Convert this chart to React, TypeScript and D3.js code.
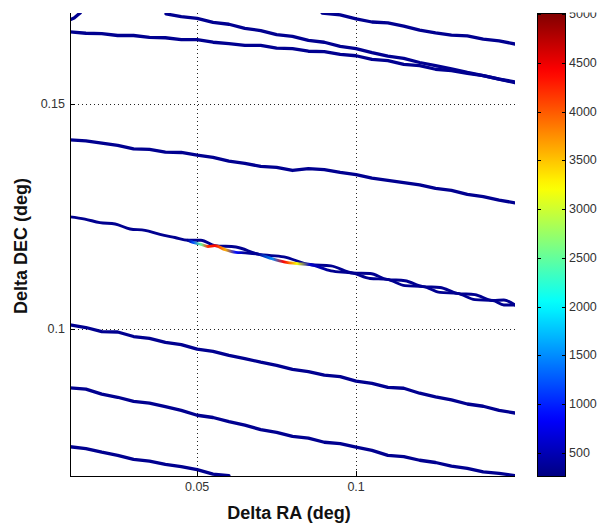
import React from "react";
import * as d3 from "d3";

// Right ascension sample positions (deg) shared by the full-width tracks
const raFull = [
  0.010, 0.015, 0.020, 0.025, 0.030, 0.035, 0.040, 0.045, 0.050, 0.055,
  0.060, 0.065, 0.070, 0.075, 0.080, 0.085, 0.090, 0.095, 0.100, 0.105,
  0.110, 0.115, 0.120, 0.125, 0.130, 0.135, 0.140, 0.145, 0.150,
];

// Track A: short hook in the upper-left corner
const raA = [0.0100, 0.0113, 0.0125, 0.0132];
const decA = [0.1687, 0.1691, 0.1698, 0.1702];

// Track B
const raB = [
  0.0402, 0.045, 0.050, 0.055, 0.060, 0.065, 0.070, 0.075, 0.080, 0.085,
  0.090, 0.095, 0.100, 0.105, 0.110, 0.115, 0.120, 0.125, 0.130, 0.135,
  0.140, 0.145, 0.150,
];
const decB = [
  0.1700, 0.1694, 0.1690, 0.1681, 0.1677, 0.1668, 0.1663, 0.1654, 0.1650, 0.1641,
  0.1637, 0.1628, 0.1623, 0.1614, 0.1606, 0.1601, 0.1592, 0.1585, 0.1578, 0.1570,
  0.1563, 0.1555, 0.1549,
];

// Track C
const decC = [
  0.1660, 0.1657, 0.1656, 0.1652, 0.1652, 0.1648, 0.1647, 0.1643, 0.1643, 0.1637,
  0.1634, 0.1630, 0.1630, 0.1624, 0.1623, 0.1617, 0.1616, 0.1610, 0.1607, 0.1599,
  0.1596, 0.1588, 0.1585, 0.1577, 0.1574, 0.1568, 0.1563, 0.1555, 0.1547,
];

// Track D (upper right)
const raD = [0.0893, 0.095, 0.100, 0.105, 0.110, 0.115, 0.120, 0.125, 0.130, 0.135, 0.140, 0.145, 0.150];
const decD = [0.1702, 0.1698, 0.1689, 0.1682, 0.1680, 0.1673, 0.1664, 0.1658, 0.1653, 0.1651, 0.1644, 0.1640, 0.1633];

// Track E
const decE = [
  0.1420, 0.1418, 0.1413, 0.1408, 0.1400, 0.1399, 0.1393, 0.1392, 0.1386, 0.1381,
  0.1373, 0.1368, 0.1361, 0.1359, 0.1352, 0.1356, 0.1354, 0.1348, 0.1343, 0.1335,
  0.1330, 0.1325, 0.1320, 0.1312, 0.1308, 0.1299, 0.1294, 0.1286, 0.1280,
];

// Track F, upper strand
const raF1 = [
  0.0100, 0.0147, 0.0194, 0.0242, 0.0289, 0.0336, 0.0383, 0.0430, 0.0471, 0.0512,
  0.0556, 0.0622, 0.0692, 0.0773, 0.0855, 0.0921, 0.0990, 0.1044, 0.1097, 0.1154,
  0.1211, 0.1264, 0.1318, 0.1374, 0.1431, 0.1465, 0.1500,
];
const decF1 = [
  0.1249, 0.1244, 0.1236, 0.1233, 0.1222, 0.1219, 0.1210, 0.1203, 0.1197, 0.1197,
  0.1185, 0.1182, 0.1166, 0.1160, 0.1143, 0.1140, 0.1124, 0.1123, 0.1110, 0.1107,
  0.1094, 0.1092, 0.1079, 0.1076, 0.1063, 0.1064, 0.1053,
];

// Track F, lower strand (carries the high counts)
const raF2 = [
  0.0471, 0.0487, 0.0512, 0.0534, 0.0556, 0.0588, 0.0622, 0.0651, 0.0692, 0.0736,
  0.0773, 0.0814, 0.0855, 0.0921, 0.0990, 0.1044, 0.1097, 0.1154, 0.1211, 0.1264,
  0.1318, 0.1374, 0.1431, 0.1465, 0.1500,
];
const decF2 = [
  0.1197, 0.1192, 0.1188, 0.1183, 0.1185, 0.1176, 0.1170, 0.1169, 0.1166, 0.1156,
  0.1149, 0.1145, 0.1143, 0.1129, 0.1124, 0.1112, 0.1110, 0.1096, 0.1094, 0.1081,
  0.1079, 0.1065, 0.1063, 0.1053, 0.1053,
];
const countsF2 = [
  350, 1200, 2500, 4200, 4400, 3600, 900, 350, 350, 1500,
  4400, 3200, 600, 330, 330, 330, 330, 330, 330, 330,
  330, 330, 330, 330, 330,
];

// Track G
const decG = [
  0.1009, 0.1003, 0.0994, 0.0993, 0.0983, 0.0979, 0.0970, 0.0965, 0.0955, 0.0950,
  0.0941, 0.0934, 0.0926, 0.0919, 0.0910, 0.0905, 0.0897, 0.0894, 0.0884, 0.0879,
  0.0870, 0.0868, 0.0857, 0.0849, 0.0842, 0.0833, 0.0828, 0.0819, 0.0813,
];

// Track H
const decH = [
  0.0869, 0.0866, 0.0855, 0.0848, 0.0839, 0.0835, 0.0827, 0.0819, 0.0808, 0.0803,
  0.0794, 0.0786, 0.0776, 0.0770, 0.0761, 0.0757, 0.0748, 0.0745, 0.0737, 0.0730,
  0.0719, 0.0716, 0.0708, 0.0703, 0.0695, 0.0690, 0.0682, 0.0679, 0.0674,
];

// Track I (lower left, leaves the frame)
const raI = [0.010, 0.015, 0.020, 0.025, 0.030, 0.035, 0.040, 0.045, 0.050, 0.055, 0.060];
const decI = [0.0738, 0.0734, 0.0726, 0.0719, 0.0710, 0.0706, 0.0699, 0.0694, 0.0687, 0.0677, 0.0674];

// Count level of the ordinary track samples
const baseCount = 330;

const raDomain = [0.01, 0.15];
const decDomain = [0.0673, 0.1702];
const countDomain = [254, 5010];

const xTicks = [0.05, 0.1];
const yTicks = [0.1, 0.15];
const cbTicks = [500, 1000, 1500, 2000, 2500, 3000, 3500, 4000, 4500, 5000];

// MATLAB "jet" colormap
function jet(t: number): string {
  const c = (v: number) => Math.max(0, Math.min(1, v));
  const r = c(1.5 - Math.abs(4 * t - 3));
  const g = c(1.5 - Math.abs(4 * t - 2));
  const b = c(1.5 - Math.abs(4 * t - 1));
  return d3.rgb(r * 255, g * 255, b * 255).formatHex();
}

type Track = { id: string; ra: number[]; dec: number[]; counts?: number[]; width: number; smooth?: boolean };

const tracks: Track[] = [
  { id: "A", ra: raA, dec: decA, width: 3.3 },
  { id: "C", ra: raFull, dec: decC, width: 3.3 },
  { id: "B", ra: raB, dec: decB, width: 3.3 },
  { id: "D", ra: raD, dec: decD, width: 3.3 },
  { id: "E", ra: raFull, dec: decE, width: 3.3 },
  { id: "F1", ra: raF1, dec: decF1, width: 2.9, smooth: true },
  { id: "F2", ra: raF2, dec: decF2, counts: countsF2, width: 2.9, smooth: true },
  { id: "G", ra: raFull, dec: decG, width: 3.3 },
  { id: "H", ra: raFull, dec: decH, width: 3.3 },
  { id: "I", ra: raI, dec: decI, width: 3.3 },
];

const FONT = "'Liberation Sans', Arial, Helvetica, sans-serif";

export default function App() {
  const left = 70, right = 515, top = 13, bottom = 476;
  const cbX0 = 537, cbX1 = 566, cbTop = 13, cbBottom = 477;

  const x = d3.scaleLinear().domain(raDomain).range([left, right]);
  const y = d3.scaleLinear().domain(decDomain).range([bottom, top]);
  const cNorm = d3.scaleLinear().domain(countDomain).range([0, 1]).clamp(true);
  const color = (v: number) => jet(cNorm(v));
  const cbY = d3.scaleLinear().domain(countDomain).range([cbBottom, cbTop]);

  const lineLinear = d3
    .line<[number, number]>()
    .x((d) => x(d[0]))
    .y((d) => y(d[1]));
  const lineSmooth = d3
    .line<[number, number]>()
    .x((d) => x(d[0]))
    .y((d) => y(d[1]))
    .curve(d3.curveMonotoneX);

  const gradStops = d3.range(0, 1.0001, 0.02);

  const trackGrads: React.ReactNode[] = [];
  const trackEls: React.ReactNode[] = [];
  tracks.forEach((t) => {
    const pts: [number, number][] = t.ra.map((r, i) => [r, t.dec[i]]);
    const gen = t.smooth ? lineSmooth : lineLinear;
    let stroke = color(baseCount);
    if (t.counts) {
      // colour along the track follows the per-sample counts
      const x0 = x(t.ra[0]);
      const x1 = x(t.ra[t.ra.length - 1]);
      const gid = `grad-${t.id}`;
      trackGrads.push(
        <linearGradient key={gid} id={gid} gradientUnits="userSpaceOnUse" x1={x0} y1={0} x2={x1} y2={0}>
          {t.counts.map((c, i) => (
            <stop key={i} offset={(x(t.ra[i]) - x0) / (x1 - x0)} stopColor={color(c)} />
          ))}
        </linearGradient>
      );
      stroke = `url(#${gid})`;
    }
    trackEls.push(
      <path
        key={t.id}
        d={gen(pts) || ""}
        fill="none"
        stroke={stroke}
        strokeWidth={t.width}
        strokeLinejoin="round"
        strokeLinecap="round"
      />
    );
  });

  return (
    <svg
      width={600}
      height={525}
      style={{ position: "absolute", left: 0, top: 0, background: "#fff" }}
      fontFamily={FONT}
    >
      <defs>
        <clipPath id="plot-clip">
          <rect x={left} y={top} width={right - left} height={bottom - top} />
        </clipPath>
        <clipPath id="cb-label-clip">
          <rect x={cbX1} y={12.5} width={40} height={500} />
        </clipPath>
        <linearGradient id="cb-grad" x1="0" y1="1" x2="0" y2="0">
          {gradStops.map((s) => (
            <stop key={s} offset={s} stopColor={jet(s)} />
          ))}
        </linearGradient>
        {trackGrads}
      </defs>

      <rect width={600} height={525} fill="#fff" />

      {/* grid */}
      <g stroke="#222" strokeWidth={1} strokeDasharray="1 3">
        {xTicks.map((t) => (
          <line key={`gx${t}`} x1={Math.round(x(t)) + 0.5} x2={Math.round(x(t)) + 0.5} y1={top} y2={bottom} />
        ))}
        {yTicks.map((t) => (
          <line key={`gy${t}`} x1={left} x2={right} y1={Math.round(y(t)) + 0.5} y2={Math.round(y(t)) + 0.5} />
        ))}
      </g>

      {/* tracks */}
      <g clipPath="url(#plot-clip)">{trackEls}</g>

      {/* axes */}
      <g stroke="#000" strokeWidth={1}>
        <line x1={left + 0.5} x2={left + 0.5} y1={top} y2={bottom + 0.5} />
        <line x1={left} x2={right} y1={bottom + 0.5} y2={bottom + 0.5} />
        {xTicks.map((t) => (
          <line key={`tx${t}`} x1={Math.round(x(t)) + 0.5} x2={Math.round(x(t)) + 0.5} y1={bottom} y2={bottom - 5} />
        ))}
        {yTicks.map((t) => (
          <line key={`ty${t}`} x1={left} x2={left + 5} y1={Math.round(y(t)) + 0.5} y2={Math.round(y(t)) + 0.5} />
        ))}
      </g>
      <g fontSize={12.5} fill="#333">
        {xTicks.map((t) => (
          <text key={`lx${t}`} x={x(t)} y={491} textAnchor="middle">
            {d3.format("")(t)}
          </text>
        ))}
        {yTicks.map((t) => (
          <text key={`ly${t}`} x={65} y={y(t)} textAnchor="end" dominantBaseline="central">
            {d3.format("")(t)}
          </text>
        ))}
      </g>

      {/* axis titles */}
      <text x={289} y={519} textAnchor="middle" fontSize={18} fontWeight="bold" fill="#111">
        Delta RA (deg)
      </text>
      <text
        transform="translate(27,246) rotate(-90)"
        textAnchor="middle"
        fontSize={18}
        fontWeight="bold"
        fill="#111"
      >
        Delta DEC (deg)
      </text>

      {/* colorbar */}
      <rect x={cbX0} y={cbTop} width={cbX1 - cbX0} height={cbBottom - cbTop} fill="url(#cb-grad)" />
      <rect
        x={cbX0 + 0.5}
        y={cbTop + 0.5}
        width={cbX1 - cbX0 - 1}
        height={cbBottom - cbTop - 1}
        fill="none"
        stroke="#000"
        strokeWidth={1}
      />
      <g stroke="#000" strokeWidth={1}>
        {cbTicks.map((t) => (
          <g key={`cbt${t}`}>
            <line x1={cbX0} x2={cbX0 + 4} y1={Math.round(cbY(t)) + 0.5} y2={Math.round(cbY(t)) + 0.5} />
            <line x1={cbX1 - 4} x2={cbX1} y1={Math.round(cbY(t)) + 0.5} y2={Math.round(cbY(t)) + 0.5} />
          </g>
        ))}
      </g>
      <g fontSize={12.5} fill="#333" clipPath="url(#cb-label-clip)">
        {cbTicks.map((t) => (
          <text key={`cbl${t}`} x={569} y={cbY(t)} dominantBaseline="central">
            {t}
          </text>
        ))}
      </g>
    </svg>
  );
}
